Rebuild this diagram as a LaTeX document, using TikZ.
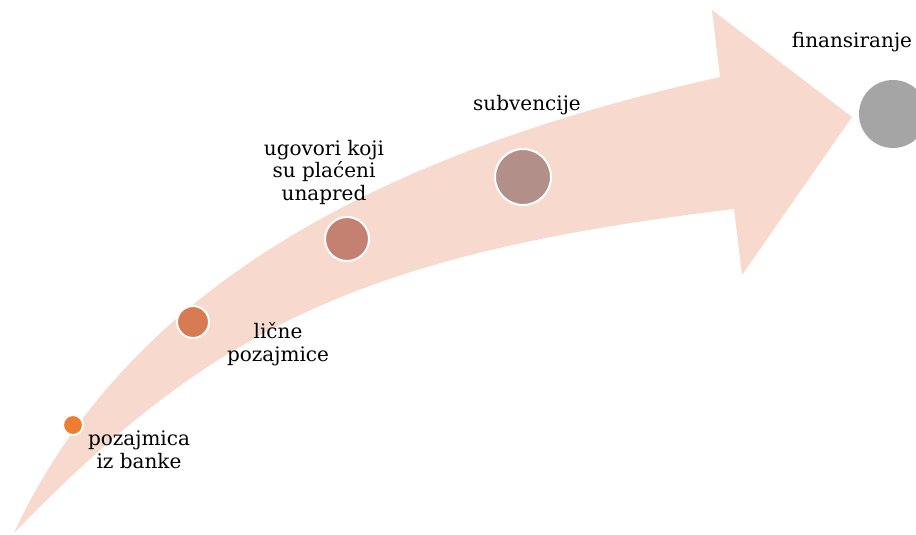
\documentclass[tikz,border=0pt]{standalone}
\usepackage{fontspec}
\setmainfont{DejaVu Serif}
\definecolor{arrowpink}{HTML}{F8D9CE}
\definecolor{cA}{HTML}{ED7D31}
\definecolor{cB}{HTML}{D77B53}
\definecolor{cC}{HTML}{C48171}
\definecolor{cD}{HTML}{B29089}
\definecolor{cE}{HTML}{A5A5A5}
\begin{document}
\begin{tikzpicture}[x=1pt,y=-1pt,
  lbl/.style={align=center,font=\fontsize{20}{22.5}\selectfont,inner sep=0pt,text=black},
  dot/.style={circle,draw=white,line width=2pt,inner sep=0pt}]
\useasboundingbox (0,0) rectangle (916,535);
% arrow
\fill[arrowpink] (14,533) .. controls (132,278) and (398,149) .. (720,77)
  -- (712,10) -- (852,117) -- (742,275) -- (734,209)
  .. controls (357,254) and (210,331) .. (14,533) -- cycle;
% circles
\node[dot,fill=cA,minimum size=20pt] (c1) at (73,425) {};
\node[dot,fill=cB,minimum size=32pt] (c2) at (193,322) {};
\node[dot,fill=cC,minimum size=44pt] (c3) at (347,239) {};
\node[dot,fill=cD,minimum size=56pt] (c4) at (523,177) {};
\node[circle,fill=cE,inner sep=0pt,minimum size=68pt] (c5) at (893,114) {};
% labels
\node[lbl] (t1) at (139,450) {pozajmica\\iz banke};
\node[lbl] (t2) at (278,344) {lične\\pozajmice};
\node[lbl] (t3) at (324,172) {ugovori koji\\su plaćeni\\unapred};
\node[lbl] (t4) at (527,105) {subvencije};
\node[lbl] (t5) at (852,42) {finansiranje};
\end{tikzpicture}
\end{document}
